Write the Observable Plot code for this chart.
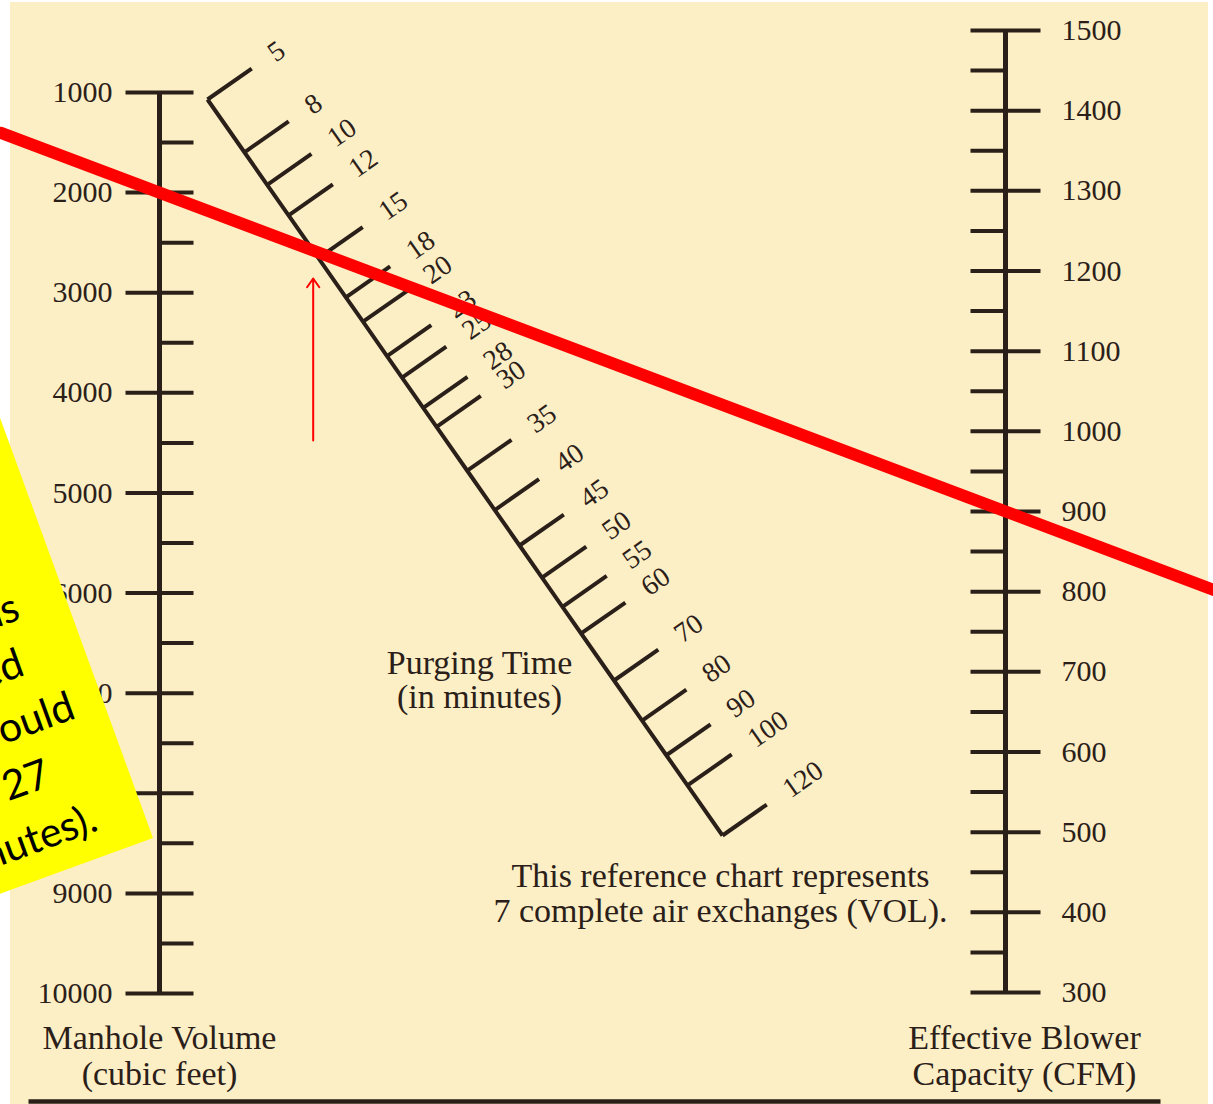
<!DOCTYPE html>
<html><head><meta charset="utf-8">
<script src="https://cdn.jsdelivr.net/npm/d3@7"></script>
<script src="https://cdn.jsdelivr.net/npm/@observablehq/plot@0.6"></script>
<style>
html,body{margin:0;padding:0;background:#ffffff;}
#page{position:relative;width:1213px;height:1104px;overflow:hidden;}
#paper{position:absolute;left:10px;top:2px;width:1198px;height:1102px;background:#fcefc5;}
#chart{position:absolute;left:0;top:0;}
#note{position:absolute;left:0;top:0;}
</style></head><body>
<div id="page"><div id="paper"></div><div id="chart"></div><svg id="note" width="1213" height="1104"></svg></div>
<script>
// ---------- DATA ----------
const volumeMajor = [1000, 2000, 3000, 4000, 5000, 6000, 7000, 8000, 9000, 10000];
const volumeMinor = [1500, 2500, 3500, 4500, 5500, 6500, 7500, 8500, 9500];
const cfmMajor = [1500, 1400, 1300, 1200, 1100, 1000, 900, 800, 700, 600, 500, 400, 300];
const cfmMinor = [1450, 1350, 1250, 1150, 1050, 950, 850, 750, 650, 550, 450, 350];
const purgeTicks = [5, 8, 10, 12, 15, 18, 20, 23, 25, 28, 30, 35, 40, 45, 50, 55, 60, 70, 80, 90, 100, 120];
const airExchanges = 7;
const exampleVolume = 2000;   // cubic feet (red line, left)
const exampleCfm = 900;       // CFM (red line, right)
const volumeTitle = "Manhole Volume\n(cubic feet)";
const cfmTitle = "Effective Blower\nCapacity (CFM)";
const purgeTitle = "Purging Time\n(in minutes)";
const chartNote = "This reference chart represents\n7 complete air exchanges (VOL).";
const stickyLines = ["If the arrow were read as", "the purge time needed", "for 900 CFM, it would", "not be 27", "(but about 15.6 minutes)."];

// ---------- LAYOUT ----------
const W = 1213, H = 1104;
const ink = "#2b2019";
const serif = "Liberation Serif, Times New Roman, serif";
const leftX = 159, rightX = 1005;
const volY = d3.scaleLinear([1000, 10000], [92, 993]);
const cfmY = d3.scaleLinear([1500, 300], [30, 992]);
const diagTop = [207, 99], diagBot = [722, 835];

// nomogram: T = k*V/Q ; fraction across the parallel axes where all lines for T meet
const mL = (volY(10000) - volY(1000)) / 9000;
const mR = (cfmY(300) - cfmY(1500)) / 1200;
const sOf = T => mL * T / (mL * T + mR * airExchanges);
const tMin = purgeTicks[0], tMax = purgeTicks[purgeTicks.length - 1];
const frac = T => (sOf(T) - sOf(tMin)) / (sOf(tMax) - sOf(tMin));
const dx = diagBot[0] - diagTop[0], dy = diagBot[1] - diagTop[1];
const dl = Math.hypot(dx, dy);
const nx = dy / dl, ny = -dx / dl;  // perpendicular, up-right
const tickAngle = Math.atan2(ny, nx) * 180 / Math.PI;
const diagPt = T => [diagTop[0] + frac(T) * dx, diagTop[1] + frac(T) * dy];
const diagTickLen = 54, diagLabelGap = 23;

const purge = purgeTicks.map(T => {
  const [x, y] = diagPt(T);
  return {T, x, y, x2: x + diagTickLen * nx, y2: y + diagTickLen * ny,
          lx: x + (diagTickLen + diagLabelGap) * nx, ly: y + (diagTickLen + diagLabelGap) * ny};
});

// left axis
const leftMajor = volumeMajor.map(v => ({v, x1: leftX - 34, x2: leftX + 34, y: volY(v)}));
const leftMinor = volumeMinor.map(v => ({v, x1: leftX, x2: leftX + 34, y: volY(v)}));
// right axis
const rightMajor = cfmMajor.map(v => ({v, x1: rightX - 35, x2: rightX + 35, y: cfmY(v)}));
const rightMinor = cfmMinor.map(v => ({v, x1: rightX - 35, x2: rightX, y: cfmY(v)}));

// red example line through V and Q, extended to the page edges
const A = [leftX, volY(exampleVolume)], B = [rightX, cfmY(exampleCfm)];
const slope = (B[1] - A[1]) / (B[0] - A[0]);
const redLine = [{x: 0, y: A[1] - slope * A[0]}, {x: W, y: A[1] + slope * (W - A[0])}];
// crossing with diagonal
const dslope = dy / dx;
const cx = (diagTop[1] - dslope * diagTop[0] - (A[1] - slope * A[0])) / (slope - dslope);
const cy = A[1] + slope * (cx - A[0]);
const arrow = [{x: cx, y1: cy + 190, y2: cy + 28}];

const chart = Plot.plot({
  width: W, height: H, margin: 0,
  x: {domain: [0, W], range: [0, W], axis: null},
  y: {domain: [0, H], range: [0, H], axis: null},
  style: {background: "transparent", overflow: "visible"},
  marks: [
    // left axis
    Plot.link([{y1: volY(1000), y2: volY(10000)}], {x1: () => leftX, x2: () => leftX, y1: "y1", y2: "y2", stroke: ink, strokeWidth: 5}),
    Plot.link(leftMajor, {x1: "x1", x2: "x2", y1: "y", y2: "y", stroke: ink, strokeWidth: 4}),
    Plot.link(leftMinor, {x1: "x1", x2: "x2", y1: "y", y2: "y", stroke: ink, strokeWidth: 4}),
    Plot.text(leftMajor, {x: d => leftX - 47, y: "y", text: d => String(d.v), textAnchor: "end", fontFamily: serif, fontSize: 30, fill: ink}),
    // right axis
    Plot.link([{y1: cfmY(1500), y2: cfmY(300)}], {x1: () => rightX, x2: () => rightX, y1: "y1", y2: "y2", stroke: ink, strokeWidth: 5}),
    Plot.link(rightMajor, {x1: "x1", x2: "x2", y1: "y", y2: "y", stroke: ink, strokeWidth: 4}),
    Plot.link(rightMinor, {x1: "x1", x2: "x2", y1: "y", y2: "y", stroke: ink, strokeWidth: 4}),
    Plot.text(rightMajor, {x: d => rightX + 56, y: "y", text: d => String(d.v), textAnchor: "start", fontFamily: serif, fontSize: 30, fill: ink}),
    // diagonal purging-time scale
    Plot.line(purge, {x: "x", y: "y", stroke: ink, strokeWidth: 4, strokeLinecap: "butt"}),
    Plot.link(purge, {x1: "x", y1: "y", x2: "x2", y2: "y2", stroke: ink, strokeWidth: 4}),
    Plot.text(purge, {x: "lx", y: "ly", text: d => String(d.T), rotate: tickAngle, textAnchor: "start", fontFamily: serif, fontSize: 28, fill: ink}),
    // titles
    Plot.text([volumeTitle], {x: () => leftX, y: () => 1055, text: d => d, fontFamily: serif, fontSize: 34, lineHeight: 1.06, fill: ink}),
    Plot.text([cfmTitle], {x: () => rightX + 19, y: () => 1055, text: d => d, fontFamily: serif, fontSize: 34, lineHeight: 1.06, fill: ink}),
    Plot.text([purgeTitle], {x: () => 479, y: () => 680, text: d => d, fontFamily: serif, fontSize: 34, lineHeight: 1.0, fill: ink}),
    Plot.text([chartNote], {x: () => 720, y: () => 893, text: d => d, fontFamily: serif, fontSize: 34, lineHeight: 1.03, fill: ink}),
    // bottom rule
    Plot.link([{x1: 28, x2: 1160, y: 1101}], {x1: "x1", x2: "x2", y1: "y", y2: "y", stroke: ink, strokeWidth: 4.5}),
    // red example line and arrow
    Plot.line(redLine, {x: "x", y: "y", stroke: "#ff0000", strokeWidth: 12}),
    Plot.arrow(arrow, {x1: "x", x2: "x", y1: "y1", y2: "y2", stroke: "#ff0000", strokeWidth: 2, headLength: 8, headAngle: 70})
  ]
});
document.getElementById("chart").appendChild(chart);

// ---------- sticky note overlay ----------
const note = d3.select("#note");
const corner = [153, 838];
const g = note.append("g").attr("transform", `translate(${corner[0]},${corner[1]}) rotate(-20)`);
g.append("rect").attr("x", -700).attr("y", -560).attr("width", 700).attr("height", 560).attr("fill", "#ffff00");
const lineEnds = [-48, -63, -30, -76, -47];
const baselines = [-251, -197, -139, -84, -26];
g.selectAll("text").data(stickyLines).join("text")
  .attr("x", (d, i) => lineEnds[i]).attr("y", (d, i) => baselines[i])
  .attr("text-anchor", "end").attr("font-family", "Lato, 'Open Sans', sans-serif").attr("font-size", 41).attr("fill", "#000")
  .text(d => d);
</script>
</body></html>
